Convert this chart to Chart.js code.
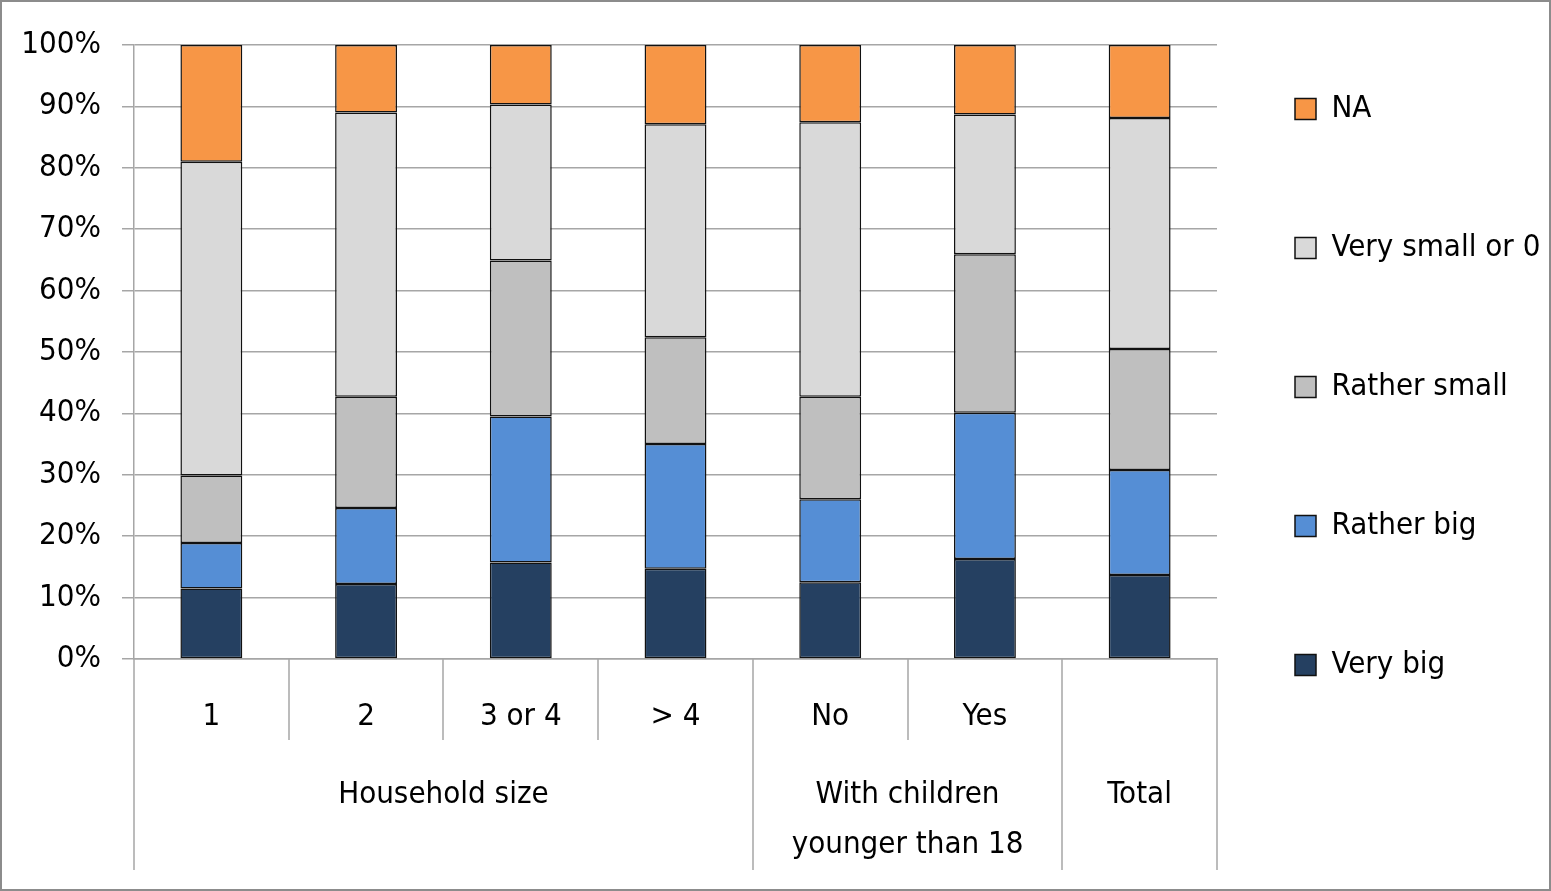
<!DOCTYPE html>
<html>
<head>
<meta charset="utf-8">
<script src="https://cdn.jsdelivr.net/npm/chart.js@4.4.1/dist/chart.umd.min.js"></script>
<style>
html, body { margin: 0; padding: 0; background: #fff; }
#wrap { width: 1551px; height: 891px; box-sizing: border-box; border: 2px solid #8c8c8c; background: #fff; }
canvas { display: block; }
</style>
</head>
<body>
<div id="wrap"><canvas id="c" width="1547" height="887"></canvas></div>
<script>
// ---- data ----
const categories = ['1', '2', '3 or 4', '> 4', 'No', 'Yes', ''];
const groupLabels = [['Household size'], ['With children', 'younger than 18'], ['Total']];
const groupSpans = [4, 2, 1];
const seriesNames = ['Very big', 'Rather big', 'Rather small', 'Very small or 0', 'NA'];
const veryBig     = [11.5, 12.2, 15.7, 14.7, 12.5, 16.3, 13.7];
const ratherBig   = [7.4, 12.4, 23.8, 20.3, 13.5, 23.8, 17.1];
const ratherSmall = [11.0, 18.1, 25.4, 17.4, 16.7, 25.8, 19.7];
const verySmall   = [51.1, 46.3, 25.4, 34.7, 44.7, 22.8, 37.6];
const naValues    = [19.0, 11.0, 9.7, 12.9, 12.6, 11.3, 11.9];
const yTickLabels = ['0%', '10%', '20%', '30%', '40%', '50%', '60%', '70%', '80%', '90%', '100%'];

// ---- style ----
const FONT = "'DejaVu Sans Condensed', 'Liberation Sans Narrow', sans-serif";
const FONT_SIZE = 31;
const seriesColors = ['#254061', '#558ED5', '#BFBFBF', '#D9D9D9', '#F79646'];
const GRID = '#a6a6a6';

const seriesValues = [veryBig, ratherBig, ratherSmall, verySmall, naValues];
const datasets = seriesNames.map((name, i) => ({
  label: name,
  data: seriesValues[i],
  backgroundColor: seriesColors[i],
  borderColor: '#111',
  borderWidth: 1.5,
  borderSkipped: false,
  barPercentage: 0.4,
  categoryPercentage: 1.0
}));

const groupAxisPlugin = {
  id: 'groupAxis',
  afterDraw(chart) {
    const xs = chart.scales.x;
    const ctx = chart.ctx;
    const top = chart.chartArea.bottom;
    const n = categories.length;
    const edge = i => i <= 0 ? xs.left : (i >= n ? xs.right : (xs.getPixelForValue(i - 1) + xs.getPixelForValue(i)) / 2);
    const bounds = [0];
    let acc = 0;
    groupSpans.forEach(s => { acc += s; bounds.push(acc); });
    ctx.save();
    ctx.strokeStyle = GRID;
    ctx.lineWidth = 1.5;
    for (let i = 0; i <= n; i++) {
      const isGroup = bounds.includes(i);
      const px = Math.round(edge(i));
      ctx.beginPath();
      ctx.moveTo(px, top);
      ctx.lineTo(px, top + (isGroup ? 211 : 81));
      ctx.stroke();
    }
    ctx.fillStyle = '#000';
    ctx.font = FONT_SIZE + 'px ' + FONT;
    ctx.textAlign = 'center';
    ctx.textBaseline = 'middle';
    groupLabels.forEach((lines, g) => {
      const cx = (edge(bounds[g]) + edge(bounds[g + 1])) / 2;
      lines.forEach((t, k) => ctx.fillText(t, cx, top + 136 + k * 50));
    });
    ctx.restore();
  }
};

const legendPlacePlugin = {
  id: 'legendPlace',
  afterLayout(chart) {
    const lg = chart.legend;
    const pad = lg.options.labels.padding;
    const itemH = FONT_SIZE;
    lg.left = 1293 - pad;
    lg.top = 107 - pad - itemH / 2;
  }
};

new Chart(document.getElementById('c'), {
  type: 'bar',
  data: { labels: categories, datasets },
  options: {
    responsive: false,
    animation: false,
    devicePixelRatio: 1,
    layout: { padding: { top: 43, right: 0, bottom: 0, left: 0 } },
    plugins: {
      tooltip: { enabled: false },
      legend: {
        position: 'right',
        align: 'start',
        reverse: true,
        maxWidth: 332,
        labels: {
          color: '#000',
          font: { family: FONT, size: FONT_SIZE },
          boxWidth: 21,
          boxHeight: 21,
          padding: 108
        }
      }
    },
    scales: {
      x: {
        stacked: true,
        grid: { display: true, drawOnChartArea: false, drawTicks: false },
        border: { display: true, color: GRID, width: 1.5 },
        ticks: { color: '#000', font: { family: FONT, size: FONT_SIZE }, padding: 39, maxRotation: 0, autoSkip: false },
        afterFit(scale) { scale.height = 230; }
      },
      y: {
        stacked: true,
        min: 0,
        max: 100,
        grid: { color: GRID, lineWidth: 1.5, tickLength: 12, drawTicks: true },
        border: { display: true, color: GRID, width: 1.5 },
        ticks: {
          stepSize: 10,
          color: '#000',
          font: { family: FONT, size: FONT_SIZE },
          padding: 21,
          callback: (v) => yTickLabels[Math.round(v / 10)]
        },
        afterFit(scale) { scale.width = 132; }
      }
    }
  },
  plugins: [groupAxisPlugin, legendPlacePlugin]
});
</script>
</body>
</html>
